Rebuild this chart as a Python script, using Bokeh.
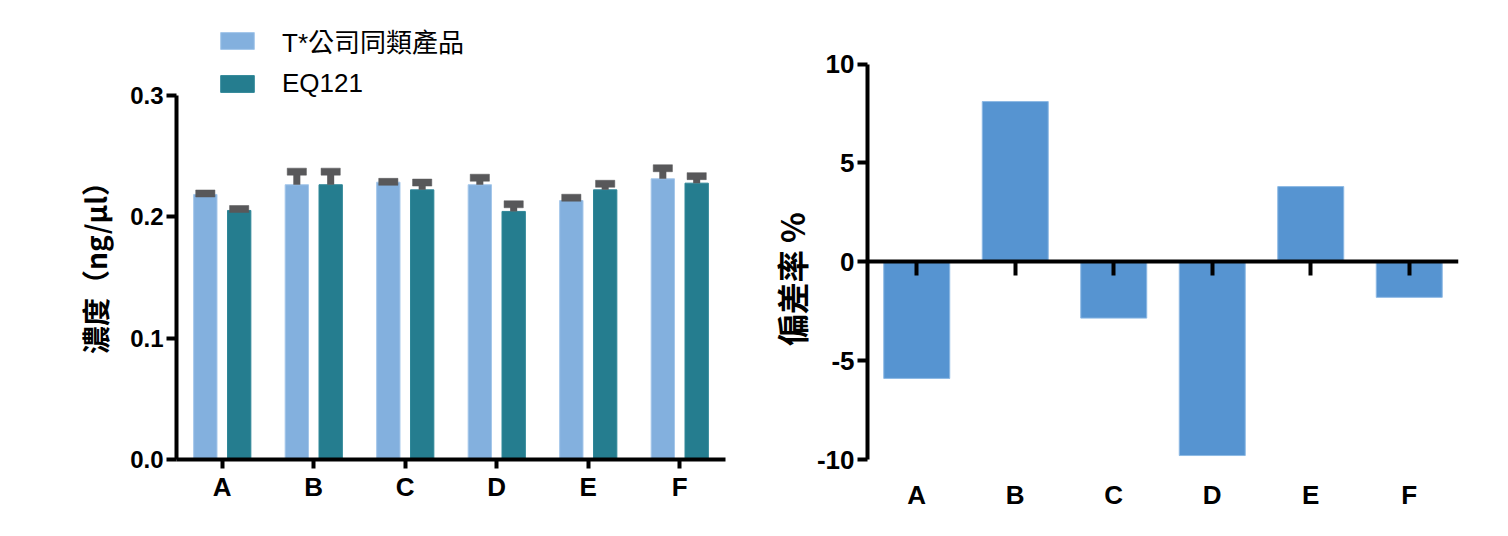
from bokeh.plotting import figure
from bokeh.models import (ColumnDataSource, Range1d, FactorRange, LinearAxis, CategoricalAxis,
                          FixedTicker, Legend, LegendItem, NumeralTickFormatter)
from bokeh.transform import dodge
from bokeh.layouts import row
from bokeh.embed import file_html
from bokeh.resources import INLINE

# ---------------- data ----------------
categories = ["A", "B", "C", "D", "E", "F"]
series_names = ["T*公司同類產品", "EQ121"]
t_company = [0.2185, 0.2265, 0.2286, 0.2265, 0.2135, 0.2314]
t_company_sd = [0.0008, 0.0108, 0.0003, 0.0058, 0.0023, 0.0087]
eq121 = [0.2053, 0.2265, 0.2223, 0.2045, 0.2223, 0.2278]
eq121_sd = [0.0012, 0.0108, 0.0060, 0.0059, 0.0050, 0.0058]
deviation = [-5.9, 8.1, -2.85, -9.8, 3.8, -1.8]
left_ticks = [0.0, 0.1, 0.2, 0.3]
right_ticks = [-10, -5, 0, 5, 10]

LIGHT = "#83B0DE"
TEAL = "#257D8F"
ERR = "#58585A"
BLUE = "#5694D1"
TICK_FONT = "Liberation Sans"
CJK_FONT = "Noto Sans CJK TC"

# ---------------- left chart ----------------
src = ColumnDataSource(dict(
    cat=categories,
    t=t_company, t_top=[v + e for v, e in zip(t_company, t_company_sd)],
    q=eq121, q_top=[v + e for v, e in zip(eq121, eq121_sd)],
))

p1 = figure(x_range=FactorRange(*categories, range_padding=0), y_range=Range1d(0, 0.3619),
            width=764, height=512, output_backend="svg", toolbar_location=None,
            x_axis_location=None, y_axis_location=None,
            min_border_left=176, min_border_right=39, min_border_top=20, min_border_bottom=53)
p1.outline_line_color = None
p1.grid.visible = False

OFF = 0.185
BW = 0.255
r_t = p1.vbar(x=dodge("cat", -OFF, range=p1.x_range), top="t", width=BW, source=src,
              fill_color=LIGHT, line_color="#A4C7EA", line_width=1)
r_q = p1.vbar(x=dodge("cat", OFF, range=p1.x_range), top="q", width=BW, source=src,
              fill_color=TEAL, line_color="#2F8798", line_width=1)

for key, top, off in (("t", "t_top", -OFF), ("q", "q_top", OFF)):
    p1.segment(x0=dodge("cat", off, range=p1.x_range), x1=dodge("cat", off, range=p1.x_range),
               y0=key, y1=top, source=src, line_color=ERR, line_width=7, line_cap="butt")
    p1.rect(x=dodge("cat", off, range=p1.x_range), y=top, width=0.21, height=7,
            height_units="screen", source=src, fill_color=ERR, line_color=ERR, line_width=0.5)

yax1 = LinearAxis(ticker=FixedTicker(ticks=left_ticks), axis_label="濃度（ng/μl）\u3000\u3000",
                  bounds=(0, 0.3), formatter=NumeralTickFormatter(format="0.0"))
yax1.axis_line_width = 4
yax1.axis_line_color = "black"
yax1.major_tick_line_width = 4
yax1.major_tick_out = 10
yax1.major_tick_in = 0
yax1.minor_tick_line_color = None
yax1.major_label_text_font = TICK_FONT
yax1.major_label_text_font_style = "bold"
yax1.major_label_text_font_size = "24px"
yax1.major_label_text_color = "black"
yax1.major_label_standoff = 3
yax1.axis_label_text_font = CJK_FONT
yax1.axis_label_text_font_style = "bold"
yax1.axis_label_text_font_size = "28px"
yax1.axis_label_text_color = "black"
yax1.axis_label_standoff = 12
p1.add_layout(yax1, "left")

xax1 = CategoricalAxis()
xax1.axis_line_width = 4
xax1.axis_line_color = "black"
xax1.major_tick_line_width = 4
xax1.major_tick_out = 9
xax1.major_tick_in = 0
xax1.major_label_text_font = TICK_FONT
xax1.major_label_text_font_style = "bold"
xax1.major_label_text_font_size = "26px"
xax1.major_label_text_color = "black"
xax1.major_label_standoff = 3
p1.add_layout(xax1, "below")

legend = Legend(items=[LegendItem(label=series_names[0], renderers=[r_t]),
                       LegendItem(label=series_names[1], renderers=[r_q])],
                location=(40, 360))
legend.glyph_width = 42
legend.glyph_height = 21
legend.label_standoff = 24
legend.label_text_font = "Liberation Sans, Noto Sans CJK TC"
legend.label_text_font_size = "26px"
legend.label_text_color = "black"
legend.label_height = 21
legend.spacing = 9
legend.padding = 0
legend.margin = 0
legend.border_line_color = None
legend.background_fill_alpha = 0
p1.add_layout(legend, "center")

# ---------------- right chart ----------------
src2 = ColumnDataSource(dict(cat=categories, dev=deviation))
p2 = figure(x_range=FactorRange(*categories, range_padding=0), y_range=Range1d(-10, 12.2),
            width=728, height=512, output_backend="svg", toolbar_location=None,
            x_axis_location=None, y_axis_location=None,
            min_border_left=92, min_border_right=34, min_border_top=20, min_border_bottom=53)
p2.outline_line_color = None
p2.grid.visible = False

p2.vbar(x="cat", top="dev", bottom=0, width=0.67, source=src2,
        fill_color=BLUE, line_color="#8DB9E4", line_width=1)

yax2 = LinearAxis(ticker=FixedTicker(ticks=right_ticks),
                  axis_label="偏差率 %\u3000\u3000\u00a0\u00a0",
                  bounds=(-10, 10), formatter=NumeralTickFormatter(format="0"))
yax2.axis_line_width = 4
yax2.axis_line_color = "black"
yax2.major_tick_line_width = 4
yax2.major_tick_out = 10
yax2.major_tick_in = 0
yax2.minor_tick_line_color = None
yax2.major_label_text_font = TICK_FONT
yax2.major_label_text_font_style = "bold"
yax2.major_label_text_font_size = "26px"
yax2.major_label_text_color = "black"
yax2.major_label_standoff = 3
yax2.axis_label_text_font = CJK_FONT
yax2.axis_label_text_font_style = "bold"
yax2.axis_label_text_font_size = "32px"
yax2.axis_label_text_color = "black"
yax2.axis_label_standoff = 0
p2.add_layout(yax2, "left")

zero_ax = CategoricalAxis(fixed_location=0)
zero_ax.axis_line_width = 4
zero_ax.axis_line_color = "black"
zero_ax.major_tick_line_width = 4
zero_ax.major_tick_out = 14
zero_ax.major_tick_in = 0
zero_ax.major_label_text_alpha = 0
zero_ax.major_label_text_font_size = "1px"
p2.add_layout(zero_ax, "below")

xlab2 = CategoricalAxis()
xlab2.axis_line_color = None
xlab2.major_tick_line_color = None
xlab2.major_tick_out = 0
xlab2.major_label_text_font = TICK_FONT
xlab2.major_label_text_font_style = "bold"
xlab2.major_label_text_font_size = "26px"
xlab2.major_label_text_color = "black"
xlab2.major_label_standoff = 20
p2.add_layout(xlab2, "below")

layout = row(p1, p2)
open("out.html", "w").write(file_html(layout, INLINE))
